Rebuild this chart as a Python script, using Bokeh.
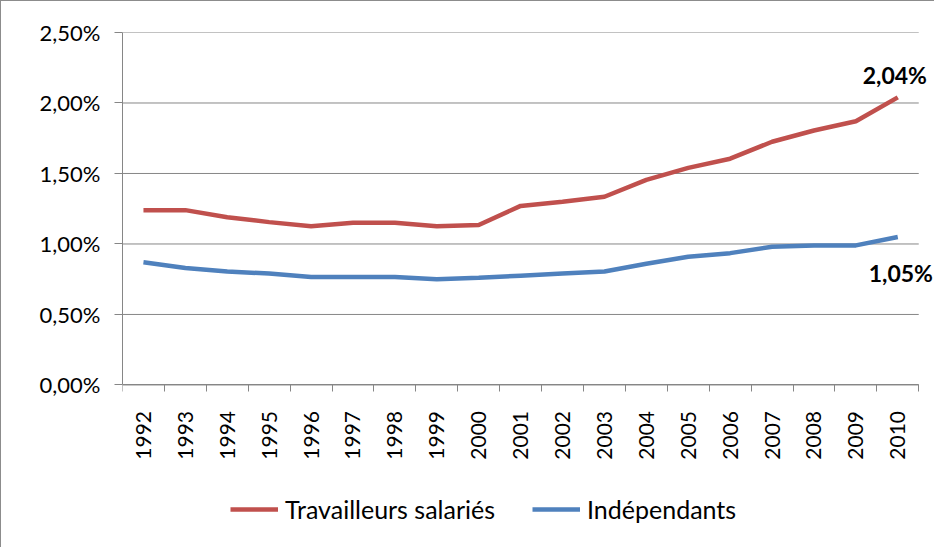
import math
from bokeh.plotting import figure
from bokeh.models import (LinearAxis, FixedTicker, Range1d, Legend, LegendItem,
                          LabelSet, ColumnDataSource)
from bokeh.core.properties import value
from bokeh.embed import file_html
from bokeh.resources import INLINE

years = ["1992", "1993", "1994", "1995", "1996", "1997", "1998", "1999", "2000",
         "2001", "2002", "2003", "2004", "2005", "2006", "2007", "2008", "2009", "2010"]
salaries = [1.24, 1.24, 1.19, 1.155, 1.125, 1.15, 1.15, 1.125, 1.135, 1.27, 1.30,
            1.335, 1.455, 1.54, 1.605, 1.725, 1.805, 1.87, 2.04]
independants = [0.87, 0.83, 0.805, 0.79, 0.765, 0.765, 0.765, 0.75, 0.76, 0.775, 0.79,
                0.805, 0.86, 0.91, 0.935, 0.98, 0.99, 0.99, 1.05]
y_ticks = [0.0, 0.5, 1.0, 1.5, 2.0, 2.5]
y_tick_labels = ["0,00%", "0,50%", "1,00%", "1,50%", "2,00%", "2,50%"]
series_names = ["Travailleurs salariés", "Indépendants"]

RED = "#C0504D"
BLUE = "#4F81BD"
GREY = "#868686"
FONT = "Lato"
FS = "21px"

n = len(years)
xs = list(range(n))
x_lo, x_hi = -0.5, n - 0.5   # category band edges
y_lo, y_hi = y_ticks[0], y_ticks[-1]

# frame extends below the value axis to hold the year labels and the legend
p = figure(width=934, height=547, output_backend="svg", toolbar_location=None,
           x_range=Range1d(x_lo, x_hi + 0.40),
           y_range=Range1d(y_lo - 1.16, y_hi),
           x_axis_type=None,
           min_border_left=121, min_border_top=31, min_border_right=0,
           min_border_bottom=0)
p.styles = {"border-left": "1px solid #8c8c8c", "border-top": "1px solid #8c8c8c"}
p.outline_line_color = None
p.background_fill_color = "white"
p.border_fill_color = "white"

# y axis
p.yaxis.ticker = FixedTicker(ticks=y_ticks)
p.yaxis.bounds = (y_lo, y_hi)
p.yaxis.major_label_overrides = {t: l for t, l in zip(y_ticks, y_tick_labels)}
p.yaxis.major_tick_out = 8
p.yaxis.major_tick_in = 0
p.yaxis.minor_tick_line_color = None
p.yaxis.axis_line_color = GREY
p.yaxis.major_tick_line_color = GREY
p.yaxis.major_label_text_font = FONT
p.yaxis.major_label_text_font_size = "22px"
p.yaxis.major_label_text_color = "#000000"
p.yaxis.major_label_standoff = 14
p.ygrid.visible = False

# horizontal gridlines limited to the category span
p.segment(x0=[x_lo] * len(y_ticks), x1=[x_hi] * len(y_ticks), y0=y_ticks, y1=y_ticks,
          line_color=GREY, line_width=1)

# x axis: boundary ticks, fixed at y = 0
bounds = [i - 0.5 for i in range(n + 1)]
xaxis_ticks = LinearAxis(ticker=FixedTicker(ticks=bounds),
                         major_label_overrides={b: "" for b in bounds},
                         major_label_text_font_size="1px",
                         major_tick_out=7, major_tick_in=0,
                         minor_tick_line_color=None,
                         axis_line_color=GREY, major_tick_line_color=GREY,
                         major_label_standoff=0, bounds=(x_lo, x_hi),
                         fixed_location=y_lo)
p.add_layout(xaxis_ticks, "below")

# x axis: year labels at category centres
xaxis_labels = LinearAxis(ticker=FixedTicker(ticks=xs),
                          major_label_overrides={i: y for i, y in zip(xs, years)},
                          major_label_orientation=math.pi / 2,
                          major_tick_out=0, major_tick_in=0,
                          minor_tick_line_color=None,
                          axis_line_color=None, major_tick_line_color=None,
                          major_label_text_font=FONT, major_label_text_font_size=FS,
                          major_label_text_color="#000000",
                          major_label_standoff=26, fixed_location=y_lo)
p.add_layout(xaxis_labels, "below")

r1 = p.line(xs, salaries, line_color=RED, line_width=4.5)
r2 = p.line(xs, independants, line_color=BLUE, line_width=4.5)

legend = Legend(items=[LegendItem(label=series_names[0], renderers=[r1]),
                       LegendItem(label=series_names[1], renderers=[r2])],
                location=(108, 24), orientation="horizontal",
                glyph_width=48, glyph_height=20, label_standoff=7, spacing=37,
                padding=0, margin=0, border_line_color=None,
                background_fill_alpha=0,
                label_text_font=FONT, label_text_font_size="25px",
                label_text_color="#000000")
p.add_layout(legend, "center")

fmt = lambda v: f"{v:.2f}".replace(".", ",") + "%"
lab_src = ColumnDataSource(dict(
    x=[xs[-1], xs[-1]],
    y=[salaries[-1], independants[-1]],
    text=[fmt(salaries[-1]), fmt(independants[-1])],
    xo=[-3, 3],
    yo=[22, -36],
))
p.add_layout(LabelSet(x="x", y="y", text="text", source=lab_src,
                      x_offset="xo", y_offset="yo",
                      text_align="center", text_baseline="middle",
                      text_font=value(FONT), text_font_size="23px",
                      text_font_style="bold", text_color="#000000"))

open("out.html", "w").write(file_html(p, INLINE))
